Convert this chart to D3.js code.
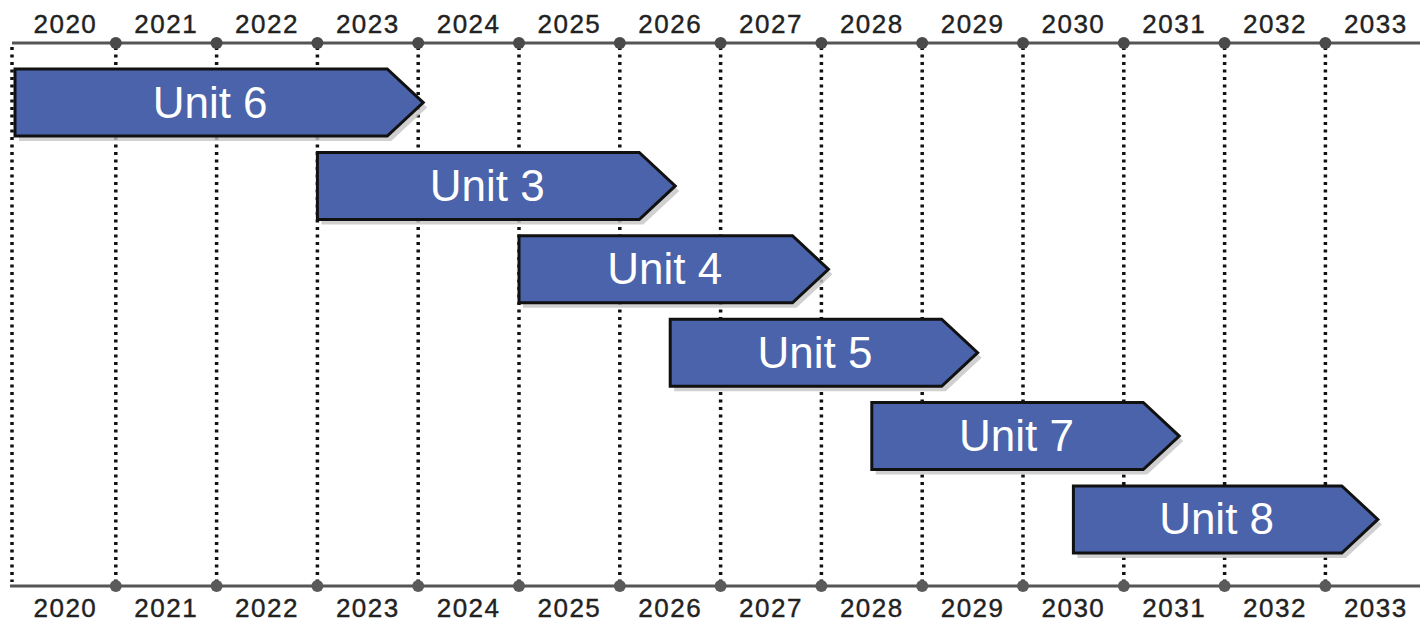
<!DOCTYPE html>
<html><head><meta charset="utf-8">
<script src="https://cdn.jsdelivr.net/npm/d3@7"></script>
<style>
html,body{margin:0;padding:0;background:#fff;}
svg{display:block;}
</style></head>
<body>
<script>
const years = [2020,2021,2022,2023,2024,2025,2026,2027,2028,2029,2030,2031,2032,2033];
const units = ["Unit 6","Unit 3","Unit 4","Unit 5","Unit 7","Unit 8"];
const starts = [2020, 2023, 2025, 2026.5, 2028.5, 2030.5];
const ends = [2024.05, 2026.55, 2028.07, 2029.55, 2031.55, 2033.52];

const W = 1420, H = 623;
const svg = d3.select("body").append("svg").attr("width", W).attr("height", H);

const x = d3.scaleLinear().domain([2020, 2034]).range([15, 15 + 14*100.8]);
const y = d3.scaleBand().domain(units).range([69, 553]).paddingInner(0.195).paddingOuter(0);
const topY = 43, botY = 586;
const lineCol = "#555";

// dotted vertical lines at year boundaries
svg.append("g").selectAll("line").data(years).join("line")
  .attr("x1", d => d === 2020 ? x(d) - 3 : x(d)).attr("x2", d => d === 2020 ? x(d) - 3 : x(d))
  .attr("y1", topY + 4).attr("y2", botY - 4)
  .attr("stroke", "#111").attr("stroke-width", 3.5).attr("stroke-dasharray", "3,4.5");

// axis lines
svg.append("line").attr("x1", 12).attr("x2", W).attr("y1", topY).attr("y2", topY)
  .attr("stroke", lineCol).attr("stroke-width", 3);
svg.append("line").attr("x1", 10).attr("x2", W).attr("y1", botY).attr("y2", botY)
  .attr("stroke", lineCol).attr("stroke-width", 3);

// dots
const inner = years.slice(1);
svg.append("g").selectAll("circle").data(inner).join("circle")
  .attr("cx", d => x(d)).attr("cy", topY).attr("r", 6).attr("fill", "#4a4a4a");
svg.append("g").selectAll("circle").data(inner).join("circle")
  .attr("cx", d => x(d)).attr("cy", botY).attr("r", 6).attr("fill", "#5a5a5a");

// year labels
const lblFont = "'Liberation Sans', Arial, sans-serif";
[topY - 10, botY + 31].forEach(yy => {
  svg.append("g").selectAll("text").data(years).join("text")
    .attr("x", d => x(d + 0.5)).attr("y", yy)
    .attr("text-anchor", "middle")
    .attr("font-family", lblFont).attr("font-size", 26)
    .attr("letter-spacing", 1.5).attr("fill", "#222")
    .attr("stroke", "#222").attr("stroke-width", 0.4)
    .text(d => d);
});

// arrow bars
const head = 36;
function arrowPath(i, dx, dy) {
  const x0 = x(starts[i]) + dx, x1 = x(ends[i]) + dx;
  const y0 = y(units[i]) + dy, h = y.bandwidth();
  return `M${x0},${y0} L${x1 - head},${y0} L${x1},${y0 + h/2} L${x1 - head},${y0 + h} L${x0},${y0 + h} Z`;
}
const g = svg.append("g");
units.forEach((u, i) => {
  g.append("path").attr("d", arrowPath(i, 4, 5)).attr("fill", "#c4c4c4").attr("opacity", 0.8);
  g.append("path").attr("d", arrowPath(i, 0, 0))
    .attr("fill", "#4a63aa").attr("stroke", "#111").attr("stroke-width", 3).attr("stroke-linejoin", "miter");
  g.append("text")
    .attr("x", (x(starts[i]) + x(ends[i]) - head/2) / 2)
    .attr("y", y(u) + y.bandwidth()/2 + 15)
    .attr("text-anchor", "middle")
    .attr("font-family", lblFont).attr("font-size", 44)
    .attr("fill", "#fff").text(u);
});
</script>
</body></html>
